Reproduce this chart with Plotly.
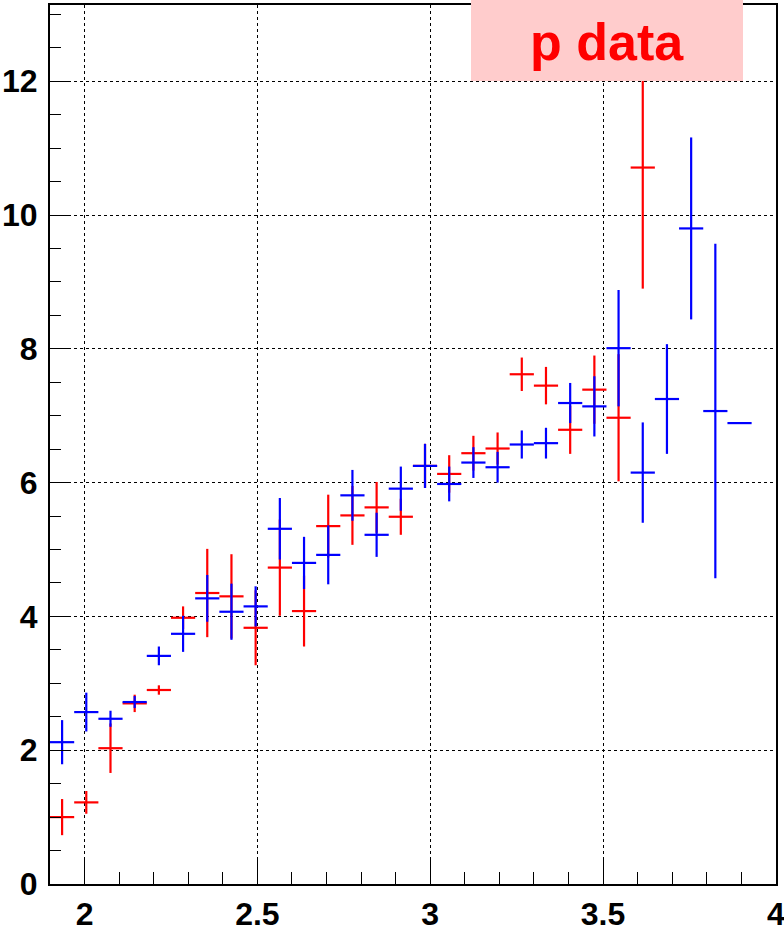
import plotly.graph_objects as go

# bin centres (30 bins of width 0.07 from 1.9 to 4.0)
bin_lo = 1.9
bin_hi = 4.0
bin_w = 0.07
x_red = [1.935, 2.005, 2.075, 2.145, 2.215, 2.285, 2.355, 2.425, 2.495, 2.565,
         2.635, 2.705, 2.775, 2.845, 2.915, 2.985, 3.055, 3.125, 3.195, 3.265,
         3.335, 3.405, 3.475, 3.545, 3.615]
y_red = [1.00, 1.22, 2.03, 2.70, 2.90, 3.98, 4.35, 4.30, 3.83, 4.73,
         4.08, 5.35, 5.51, 5.63, 5.49, 6.25, 6.13, 6.44, 6.51, 7.62,
         7.45, 6.79, 7.39, 6.97, 10.71]
e_red = [0.27, 0.17, 0.37, 0.13, 0.07, 0.17, 0.66, 0.63, 0.56, 0.72,
         0.53, 0.47, 0.44, 0.38, 0.27, 0.33, 0.28, 0.26, 0.24, 0.25,
         0.28, 0.36, 0.51, 0.95, 1.81]

x_blue = [1.935, 2.005, 2.075, 2.145, 2.215, 2.285, 2.355, 2.425, 2.495, 2.565,
          2.635, 2.705, 2.775, 2.845, 2.915, 2.985, 3.055, 3.125, 3.195, 3.265,
          3.335, 3.405, 3.475, 3.545, 3.615, 3.685, 3.755, 3.825, 3.895]
y_blue = [2.12, 2.57, 2.47, 2.72, 3.41, 3.74, 4.27, 4.07, 4.15, 5.31,
          4.80, 4.92, 5.81, 5.22, 5.91, 6.25, 5.98, 6.30, 6.23, 6.57,
          6.59, 7.19, 7.14, 8.01, 6.15, 7.25, 9.80, 7.07, 6.89]
e_blue = [0.33, 0.29, 0.12, 0.09, 0.14, 0.27, 0.35, 0.42, 0.30, 0.46,
          0.39, 0.44, 0.38, 0.33, 0.33, 0.33, 0.26, 0.23, 0.23, 0.21,
          0.23, 0.30, 0.45, 0.87, 0.75, 0.82, 1.36, 2.50, 0.0]

x_ticks = [2, 2.5, 3, 3.5, 4]
x_ticktext = ["2", "2.5", "3", "3.5", "4"]
y_ticks = [0, 2, 4, 6, 8, 10, 12]
y_ticktext = ["0", "2", "4", "6", "8", "10", "12"]
label_text = "p data"

fig = go.Figure()

def add_series(xs, ys, es, color):
    fig.add_trace(go.Scatter(
        x=xs, y=ys, mode="markers",
        marker=dict(size=2, color=color, opacity=0),
        error_y=dict(type="data", array=es, symmetric=True, color=color,
                     thickness=2.2, width=0),
        error_x=dict(type="constant", value=bin_w / 2, color=color,
                     thickness=2.2, width=0),
        showlegend=False, hoverinfo="x+y",
    ))

add_series(x_red, y_red, e_red, "#ff0000")
add_series(x_blue, y_blue, e_blue, "#0000ff")

tickfont = dict(family="Liberation Sans, Arial, sans-serif", size=32,
                color="black", weight="bold")

fig.update_xaxes(
    range=[bin_lo, bin_hi + 0.0005], tickvals=x_ticks, ticktext=x_ticktext,
    ticks="inside", ticklen=25, tickwidth=1.3, tickcolor="black",
    showgrid=True, gridcolor="black", griddash="dot", gridwidth=1,
    showline=True, linecolor="black", linewidth=2, mirror=True,
    zeroline=False, tickfont=tickfont, automargin=False,
    ticklabelstandoff=1, ticklabeloverflow="allow",
    minor=dict(dtick=0.1, tick0=2, ticks="inside", ticklen=12,
               tickcolor="black", tickwidth=1.3, showgrid=False),
)
fig.update_yaxes(
    range=[0, 13.14], tickvals=y_ticks, ticktext=y_ticktext,
    ticks="inside", ticklen=21, tickwidth=1.3, tickcolor="black",
    showgrid=True, gridcolor="black", griddash="dot", gridwidth=1,
    showline=True, linecolor="black", linewidth=2, mirror=True,
    zeroline=False, tickfont=tickfont, ticklabelstandoff=4,
    automargin=False, ticklabeloverflow="allow",
    minor=dict(dtick=0.5, tick0=0, ticks="inside", ticklen=11,
               tickcolor="black", tickwidth=1.3, showgrid=False),
)

# label box
fig.add_shape(type="rect", xref="paper", yref="paper",
              x0=(471 - 50) / 726, x1=(743 - 50) / 726,
              y0=0.9135, y1=1.01, fillcolor="#ffcccc",
              line=dict(width=0), layer="above")
fig.add_annotation(xref="paper", yref="paper",
                   x=(607 - 50) / 726, y=(884 - 42) / 879,
                   text=label_text, showarrow=False,
                   xanchor="center", yanchor="middle",
                   font=dict(family="Liberation Sans, Arial, sans-serif",
                             size=52, color="#ff0000", weight="bold"))

fig.update_layout(
    width=784, height=928, autosize=False,
    margin=dict(l=50, r=8, t=5, b=44),
    paper_bgcolor="white", plot_bgcolor="white",
)

fig.write_html("out.html",
               config={"displayModeBar": False},
               post_script="document.body.style.margin='0';"
                           "document.body.style.overflow='hidden';")
